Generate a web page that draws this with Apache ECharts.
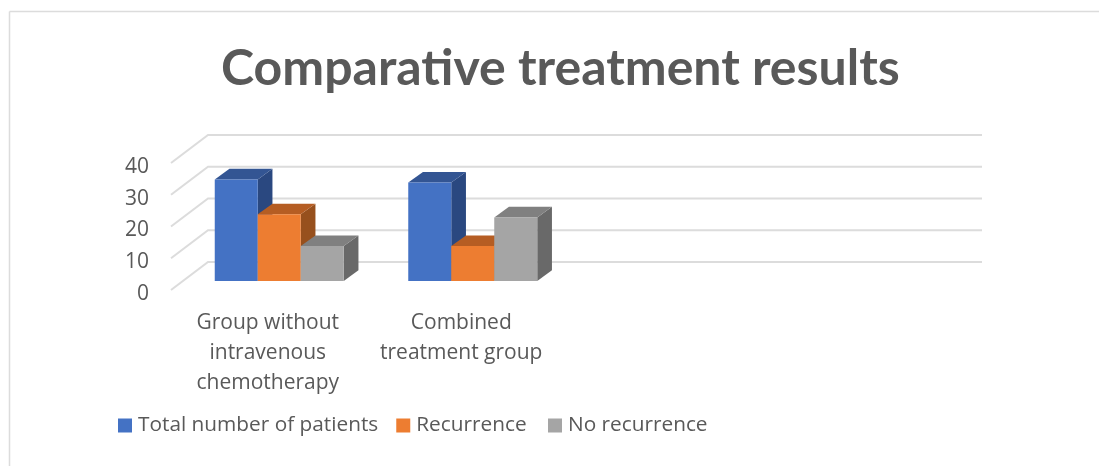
<!DOCTYPE html>
<html>
<head>
<meta charset="utf-8">
<style>
html, body { margin: 0; padding: 0; background: #fff; }
#main { width: 1099px; height: 466px; }
</style>
<script src="https://cdn.jsdelivr.net/npm/echarts@6/dist/echarts.min.js"></script>
</head>
<body>
<div id="main"></div>
<script>
var categories = ['Group without\nintravenous\nchemotherapy', 'Combined\ntreatment group', ' ', '  '];
var yTicks = [0, 10, 20, 30, 40];
var seriesNames = ['Total number of patients', 'Recurrence', 'No recurrence'];
var totalPatients = [32, 31];
var recurrence = [21, 11];
var noRecurrence = [11, 20];

// front, top and side colours of each bar
var faceColors = ['#4472C4', '#ED7D31', '#A5A5A5'];
var topColors = ['#335593', '#B55D23', '#808080'];
var sideColors = ['#2A4880', '#97501D', '#696969'];

// the fake 3d: how far the back wall sits from the front of the floor
var wallDx = 37, wallDy = -28;
var barOffsetX = 11.5, barOffsetY = -9;
var barDepthX = 14.7, barDepthY = -10.7;

var fontName = '"Open Sans", "Noto Sans", sans-serif';
var textColor = '#595959';

var renderWall = function (params, api) {
    var band = api.size([1, 0])[0];
    var start = api.coord([0, api.value(1)]);
    var left = start[0] - band / 2;
    var y = start[1];
    return {
        type: 'polyline',
        shape: {
            points: [
                [left, y],
                [left + wallDx, y + wallDy],
                [left + wallDx + band * categories.length, y + wallDy]
            ]
        },
        style: { stroke: '#DCDCDC', lineWidth: 2, fill: null }
    };
};

var makeBarRenderer = function (index) {
    return function (params, api) {
        var band = api.size([1, 0])[0];
        var barWidth = band * 2 / 3 / seriesNames.length;
        var base = api.coord([api.value(0), 0]);
        var top = api.coord([api.value(0), api.value(1)]);
        var x0 = base[0] + barOffsetX + (index - seriesNames.length / 2) * barWidth;
        var x1 = x0 + barWidth;
        var yb = base[1] + barOffsetY;
        var yt = top[1] + barOffsetY;
        return {
            type: 'group',
            children: [
                {
                    type: 'polygon',
                    shape: { points: [[x1, yt], [x1 + barDepthX, yt + barDepthY], [x1 + barDepthX, yb + barDepthY], [x1, yb]] },
                    style: { fill: sideColors[index] }
                },
                {
                    type: 'polygon',
                    shape: { points: [[x0, yt], [x0 + barDepthX, yt + barDepthY], [x1 + barDepthX, yt + barDepthY], [x1, yt]] },
                    style: { fill: topColors[index] }
                },
                {
                    type: 'rect',
                    shape: { x: x0, y: yt, width: barWidth, height: yb - yt },
                    style: { fill: faceColors[index] }
                }
            ]
        };
    };
};

var toPairs = function (values) {
    return values.map(function (v, i) { return [i, v]; });
};

var legendText = { fontFamily: fontName, fontSize: 20.8, color: textColor, padding: [0, 0, 0, 1] };

var box = echarts.init(document.getElementById('main'));
var option = {
    animation: false,
    backgroundColor: '#fff',
    title: {
        text: 'Comparative treatment results',
        left: 216,
        top: 39,
        textStyle: { fontFamily: 'Lato, "Open Sans", sans-serif', fontSize: 50, fontWeight: 'bold', color: textColor }
    },
    legend: [
        {
            data: seriesNames.slice(0, 2),
            left: 113,
            top: 410,
            icon: 'rect',
            itemWidth: 14,
            itemHeight: 14,
            itemGap: 18,
            textStyle: legendText
        },
        {
            data: seriesNames.slice(2),
            left: 543,
            top: 410,
            icon: 'rect',
            itemWidth: 14,
            itemHeight: 14,
            textStyle: legendText
        }
    ],
    grid: { left: 171, right: 154, top: 163, bottom: 176 },
    xAxis: {
        type: 'category',
        data: categories,
        axisLine: { show: false },
        axisTick: { show: false },
        axisLabel: {
            interval: 0,
            margin: 18,
            fontFamily: fontName,
            fontSize: 21,
            lineHeight: 30,
            color: textColor
        }
    },
    yAxis: {
        type: 'value',
        min: 0,
        max: 40,
        interval: 10,
        axisLine: { show: false },
        axisTick: { show: false },
        splitLine: { show: false },
        axisLabel: { margin: 22, verticalAlign: 'top', lineHeight: 8, fontFamily: fontName, fontSize: 21, color: textColor }
    },
    graphic: [
        { type: 'line', shape: { x1: 9.5, y1: 11.5, x2: 1099, y2: 11.5 }, style: { stroke: '#DCDCDC', lineWidth: 1.5 } },
        { type: 'line', shape: { x1: 9.5, y1: 11.5, x2: 9.5, y2: 466 }, style: { stroke: '#DCDCDC', lineWidth: 1.5 } }
    ],
    series: [
        {
            type: 'custom',
            silent: true,
            renderItem: renderWall,
            encode: { x: 0, y: 1 },
            data: yTicks.map(function (v) { return [0, v]; })
        },
        {
            name: seriesNames[0],
            type: 'custom',
            renderItem: makeBarRenderer(0),
            encode: { x: 0, y: 1 },
            itemStyle: { color: faceColors[0] },
            data: toPairs(totalPatients)
        },
        {
            name: seriesNames[1],
            type: 'custom',
            renderItem: makeBarRenderer(1),
            encode: { x: 0, y: 1 },
            itemStyle: { color: faceColors[1] },
            data: toPairs(recurrence)
        },
        {
            name: seriesNames[2],
            type: 'custom',
            renderItem: makeBarRenderer(2),
            encode: { x: 0, y: 1 },
            itemStyle: { color: faceColors[2] },
            data: toPairs(noRecurrence)
        }
    ]
};
box.setOption(option);
</script>
</body>
</html>
